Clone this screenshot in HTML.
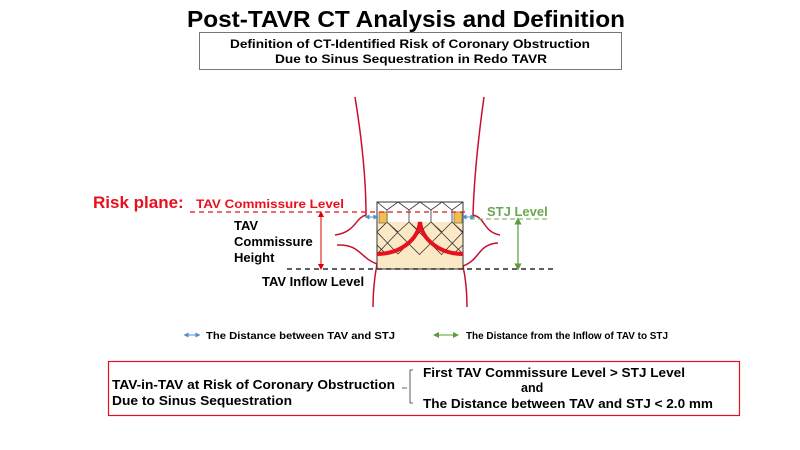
<!DOCTYPE html>
<html><head><meta charset="utf-8"><style>
html,body{margin:0;padding:0;background:#fff;}
svg{display:block;}
text{font-family:"Liberation Sans",Arial,sans-serif;font-weight:bold;}
</style></head><body>
<svg width="800" height="450" viewBox="0 0 800 450" xmlns="http://www.w3.org/2000/svg">
<defs>
<marker id="ar" markerWidth="6" markerHeight="6" refX="3" refY="3" orient="auto-start-reverse"><path d="M0,0L6,3L0,6z" fill="#d00"/></marker>
<marker id="ag" markerWidth="6" markerHeight="6" refX="3" refY="3" orient="auto-start-reverse"><path d="M0,0L6,3L0,6z" fill="#5a9e3a"/></marker>
<marker id="ab" markerWidth="5" markerHeight="5" refX="2.5" refY="2.5" orient="auto-start-reverse"><path d="M0,0L5,2.5L0,5z" fill="#4a8fd0"/></marker>
<clipPath id="cb"><rect x="377" y="202" width="86" height="67"/></clipPath>
</defs>
<text x="187" y="27" font-size="23" textLength="438" lengthAdjust="spacingAndGlyphs" fill="#000">Post-TAVR CT Analysis and Definition</text>
<rect x="199.5" y="32.5" width="422" height="37" fill="none" stroke="#777" stroke-width="1"/>
<text x="230" y="48" font-size="12" textLength="360" lengthAdjust="spacingAndGlyphs">Definition of CT-Identified Risk of Coronary Obstruction</text>
<text x="275" y="63" font-size="12" textLength="272" lengthAdjust="spacingAndGlyphs">Due to Sinus Sequestration in Redo TAVR</text>

<g fill="none" stroke="#c8102e" stroke-width="1.5">
<path d="M355,97 C362,140 366,180 366,215 C355,218 356,232 335,235"/>
<path d="M337,245 C360,244 360,258 377,264 C374,280 373,295 373,307"/>
<path d="M484,97 C478,140 474,180 473,215 C486,218 483,232 500,235"/>
<path d="M498,243 C478,244 480,260 463,266 C466,280 467,295 467,307"/>
</g>

<rect x="377" y="222" width="86" height="47" fill="#fbe8c4"/>
<g clip-path="url(#cb)" fill="none" stroke="#333" stroke-width="0.8">
<path d="M377,202 L387,210 L398,202 L409,210 L420,202 L431,210 L442,202 L452,210 L463,202"/>
<path d="M387,210 V222 M409,210 V222 M431,210 V222 M452,210 V222"/>
<path d="M377,232 L387,222 L420,255 M387,222 L398,232 M398,232 L409,222 L442,255 M409,222 L420,232 M420,232 L431,222 L463,254 M431,222 L442,232 M442,232 L452,222 L463,232 M452,222 L463,233"/>
<path d="M377,232 L398,254 M377,245 L387,255 M398,232 L377,254 M420,232 L398,254 M442,232 L420,254 M463,232 L442,254 M463,245 L452,255"/>
</g>
<rect x="377" y="202" width="86" height="67" fill="none" stroke="#333" stroke-width="1"/>
<rect x="379" y="212" width="8" height="11" fill="#f2c04a" stroke="#555" stroke-width="0.6"/>
<rect x="454" y="212" width="8" height="11" fill="#f2c04a" stroke="#555" stroke-width="0.6"/>
<path d="M377,254 C400,254 418,240 420,222 C422,240 440,254 463,254" fill="none" stroke="#e8101e" stroke-width="4"/>

<line x1="190" y1="212" x2="468" y2="212" stroke="#e8101e" stroke-width="1.3" stroke-dasharray="5,4"/>
<line x1="470" y1="219" x2="547" y2="219" stroke="#8bb870" stroke-width="1.3" stroke-dasharray="5,3"/>
<line x1="287" y1="269" x2="555" y2="269" stroke="#000" stroke-width="1.3" stroke-dasharray="5,4"/>
<line x1="321" y1="214" x2="321" y2="267" stroke="#d00" stroke-width="1" marker-start="url(#ar)" marker-end="url(#ar)"/>
<line x1="518" y1="221" x2="518" y2="267" stroke="#5a9e3a" stroke-width="1.2" marker-start="url(#ag)" marker-end="url(#ag)"/>
<line x1="367" y1="217" x2="376" y2="217" stroke="#4a8fd0" stroke-width="1" marker-start="url(#ab)" marker-end="url(#ab)"/>
<line x1="464" y1="217" x2="473" y2="217" stroke="#4a8fd0" stroke-width="1" marker-start="url(#ab)" marker-end="url(#ab)"/>

<text x="93" y="208" font-size="17" fill="#e8101e">Risk plane:</text>
<text x="196" y="208" font-size="12" textLength="148" lengthAdjust="spacingAndGlyphs" fill="#e8101e">TAV Commissure Level</text>
<text x="234" y="230" font-size="13">TAV</text>
<text x="234" y="246" font-size="13">Commissure</text>
<text x="234" y="262" font-size="13">Height</text>
<text x="262" y="286" font-size="13">TAV Inflow Level</text>
<text x="487" y="216" font-size="13" fill="#6aa84f">STJ Level</text>

<line x1="186" y1="335" x2="198" y2="335" stroke="#4a8fd0" stroke-width="1" marker-start="url(#ab)" marker-end="url(#ab)"/>
<text x="206" y="339" font-size="10" textLength="189" lengthAdjust="spacingAndGlyphs">The Distance between TAV and STJ</text>
<line x1="436" y1="335" x2="456" y2="335" stroke="#5a9e3a" stroke-width="1" marker-start="url(#ag)" marker-end="url(#ag)"/>
<text x="466" y="339" font-size="10" textLength="202" lengthAdjust="spacingAndGlyphs">The Distance from the Inflow of TAV to STJ</text>

<rect x="108.5" y="361.5" width="631" height="54" fill="none" stroke="#e8101e" stroke-width="1.2"/>
<text x="112" y="389" font-size="12.5" textLength="283" lengthAdjust="spacingAndGlyphs">TAV-in-TAV at Risk of Coronary Obstruction</text>
<text x="112" y="405" font-size="12.5" textLength="180" lengthAdjust="spacingAndGlyphs">Due to Sinus Sequestration</text>
<path d="M402,388 H407 M413,370 H410 V403 H413" fill="none" stroke="#333" stroke-width="0.8"/>
<text x="423" y="377" font-size="12.5" textLength="262" lengthAdjust="spacingAndGlyphs">First TAV Commissure Level &gt; STJ Level</text>
<text x="521" y="392" font-size="12.5">and</text>
<text x="423" y="408" font-size="12.5" textLength="290" lengthAdjust="spacingAndGlyphs">The Distance between TAV and STJ &lt; 2.0 mm</text>
</svg>
</body></html>
